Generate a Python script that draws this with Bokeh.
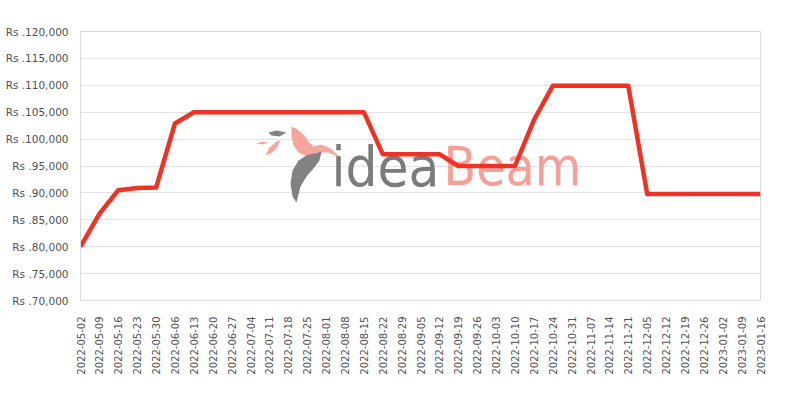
import math
from bokeh.plotting import figure
from bokeh.models import Range1d, FixedTicker, Label, ColumnDataSource
from bokeh.embed import file_html
from bokeh.resources import INLINE

dates = ["2022-05-02", "2022-05-09", "2022-05-16", "2022-05-23", "2022-05-30",
         "2022-06-06", "2022-06-13", "2022-06-20", "2022-06-27", "2022-07-04",
         "2022-07-11", "2022-07-18", "2022-07-25", "2022-08-01", "2022-08-08",
         "2022-08-15", "2022-08-22", "2022-08-29", "2022-09-05", "2022-09-12",
         "2022-09-19", "2022-09-26", "2022-10-03", "2022-10-10", "2022-10-17",
         "2022-10-24", "2022-10-31", "2022-11-07", "2022-11-14", "2022-11-21",
         "2022-12-05", "2022-12-12", "2022-12-19", "2022-12-26", "2023-01-02",
         "2023-01-09", "2023-01-16"]
prices = [80000, 86100, 90500, 90900, 91000,
          102900, 105000, 105000, 105000, 105000,
          105000, 105000, 105000, 105000, 105000,
          105000, 97200, 97200, 97200, 97200,
          95000, 95000, 95000, 95000, 103500,
          109900, 109900, 109900, 109900, 109900,
          89800, 89800, 89800, 89800, 89800,
          89800, 89800]
y_ticks = [70000, 75000, 80000, 85000, 90000, 95000, 100000, 105000, 110000, 115000, 120000]
y_labels = ["Rs .70,000", "Rs .75,000", "Rs .80,000", "Rs .85,000", "Rs .90,000",
            "Rs .95,000", "Rs .100,000", "Rs .105,000", "Rs .110,000", "Rs .115,000",
            "Rs .120,000"]

xs = list(range(len(dates)))
src = ColumnDataSource(dict(x=xs, y=prices))

FL, FR, FT, FB = 80, 40, 31, 100
W, H = 800, 400
p = figure(width=W, height=H, output_backend="svg", toolbar_location=None,
           x_range=Range1d(0, len(dates) - 1), y_range=Range1d(70000, 120000),
           min_border_left=FL, min_border_right=FR, min_border_top=FT, min_border_bottom=FB)
p.outline_line_color = "#d9d9d9"
p.background_fill_color = "white"
p.border_fill_color = "white"

p.xgrid.grid_line_color = None
p.ygrid.grid_line_color = "#e3e3e3"
p.ygrid.ticker = FixedTicker(ticks=y_ticks)

p.yaxis.ticker = FixedTicker(ticks=y_ticks)
p.yaxis.major_label_overrides = {t: l for t, l in zip(y_ticks, y_labels)}
p.xaxis.ticker = FixedTicker(ticks=xs)
p.xaxis.major_label_overrides = {i: d for i, d in zip(xs, dates)}
p.xaxis.major_label_orientation = math.pi / 2

for ax in (p.xaxis[0], p.yaxis[0]):
    ax.axis_line_color = "#d9d9d9"
    ax.major_tick_line_color = None
    ax.minor_tick_line_color = None
    ax.major_label_text_font = "DejaVu Sans"
    ax.major_label_text_color = "#505050"
p.yaxis.major_label_text_font_size = "10.5px"
p.xaxis.major_label_text_font_size = "10px"
p.yaxis.major_label_standoff = 6
p.xaxis.major_label_standoff = 10

# ---- watermark logo (decoration, placed in page pixels) ----
PW, PH = W - FL - FR, H - FT - FB
def to_data(pts):
    xx = [(px - FL) / PW * (len(dates) - 1) for px, py in pts]
    yy = [70000 + (FT + PH - py) / PH * 50000 for px, py in pts]
    return xx, yy

SALMON = "#f4a099"
GRAY = "#7b7b7b"
logo_shapes = [
    (SALMON, [(291, 126), (297, 129), (304, 135), (309, 142), (313, 146), (321, 144),
              (330, 148), (340, 157), (328, 152), (316, 152), (306, 156), (298, 152),
              (293, 145), (291, 136)]),
    (GRAY, [(298, 160), (306, 155), (321, 151), (319, 160), (313, 168), (306, 176),
            (300, 186), (296, 202), (292, 196), (290, 183), (292, 170)]),
    (GRAY, [(268, 132), (276, 130), (286, 132), (279, 136), (271, 135)]),
    (SALMON, [(256, 143), (262, 141), (268, 142), (262, 144)]),
    (SALMON, [(265, 155), (269, 147), (276, 141), (280, 140), (276, 148), (270, 153)]),
]
for col, pts in logo_shapes:
    lx, ly = to_data(pts)
    p.patch(lx, ly, fill_color=col, line_color=None, fill_alpha=0.95)

BASE = FT + PH - 188 + 22
p.add_layout(Label(x=331 - FL, y=BASE, x_units="screen", y_units="screen", text="idea",
                   text_font="DejaVu Sans Condensed", text_font_size="56px", text_color=GRAY,
                   text_baseline="alphabetic", level="underlay"))
p.add_layout(Label(x=443 - FL, y=BASE, x_units="screen", y_units="screen", text="Beam",
                   text_font="DejaVu Sans Condensed", text_font_size="53px", text_color=SALMON,
                   text_baseline="alphabetic", level="underlay"))

p.line("x", "y", source=src, line_color="#ee3224", line_width=4.5, line_join="round")

open("out.html", "w").write(file_html(p, INLINE))
